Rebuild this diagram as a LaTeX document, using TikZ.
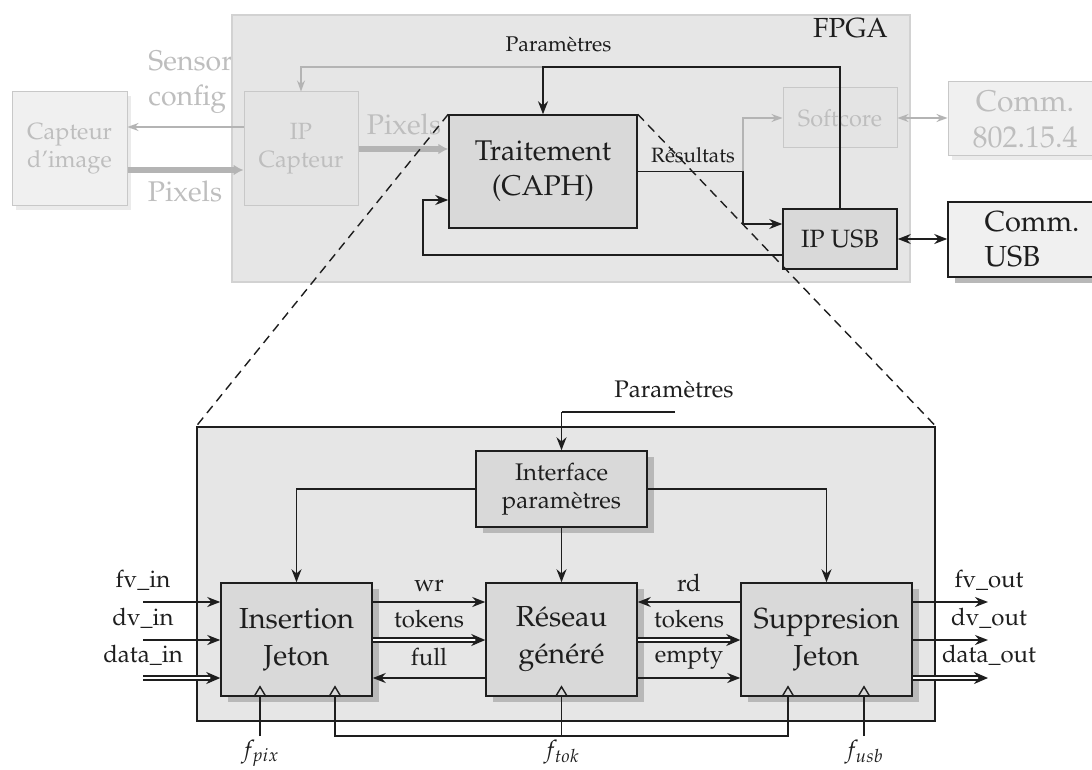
\documentclass[tikz,border=0pt]{standalone}
\usepackage[T1]{fontenc}
\usepackage{mathpazo}
\usetikzlibrary{arrows.meta,calc,positioning,shadows}
\definecolor{Ink}{HTML}{1E1E1E}
\definecolor{Board}{HTML}{E6E6E6}
\definecolor{BoardEdge}{HTML}{D2D2D2}
\definecolor{Block}{HTML}{D9D9D9}
\definecolor{Pale}{HTML}{F0F0F0}
\definecolor{PaleIn}{HTML}{E4E4E4}
\definecolor{PaleEdge}{HTML}{C8C8C8}
\definecolor{PaleInk}{HTML}{BEBEBE}
\definecolor{PaleLine}{HTML}{B4B4B4}
\definecolor{Shade}{HTML}{B8B8B8}
\tikzset{
  board/.style={draw=Ink, line width=1.5pt, fill=Board},
  fpgaboard/.style={draw=BoardEdge, line width=1.2pt, fill=Board},
  block/.style={
    draw=Ink, line width=1.5pt, fill=Block, align=center, text=Ink,
    font=\fontsize{29}{37}\selectfont
  },
  faded/.style={
    draw=PaleEdge, line width=1pt, fill=Pale, align=center, text=PaleInk,
    font=\fontsize{23.5}{28}\selectfont
  },
  shadowed/.style={drop shadow={shadow xshift=7pt, shadow yshift=-6pt, fill=Shade, opacity=1}},
  paleshadow/.style={drop shadow={shadow xshift=4pt, shadow yshift=-4pt, fill=black!8, opacity=1}},
  lbl/.style={inner sep=0pt, text=Ink, font=\fontsize{24}{28}\selectfont},
  palelbl/.style={inner sep=0pt, text=PaleInk, font=\fontsize{28.5}{35}\selectfont},
  wire/.style={line width=1.6pt, draw=Ink},
  flow/.style={-{Stealth[length=13pt,width=10pt]}, line width=1.6pt, draw=Ink},
  link/.style={flow, {Stealth[length=13pt,width=10pt]}-{Stealth[length=13pt,width=10pt]}},
  bus/.style={-{Stealth[length=14pt,width=12pt]}, draw=Ink, double=white, line width=2pt, double distance=1.2pt},
  greyflow/.style={-{Stealth[length=11pt,width=8pt]}, line width=1.2pt, draw=PaleLine},
  greylink/.style={greyflow, {Stealth[length=11pt,width=8pt]}-{Stealth[length=11pt,width=8pt]}},
  greybus/.style={-{Latex[length=10pt,width=11pt]}, line width=6pt, draw=PaleLine},
  zoomline/.style={dash pattern=on 9pt off 6pt, line width=1.4pt, draw=Ink},
  clock/.style={line width=1.4pt, draw=Ink}
}

\begin{document}
\begin{tikzpicture}[x=1pt,y=-1pt]
\path[use as bounding box, fill=white] (0,0) rectangle (1092,770);

% system view
\node[palelbl, align=left] (sensorlbl) at (190.5,82) {Sensor\\config};
\node[fpgaboard, minimum width=678pt, minimum height=267pt] (fpga) at (571,148.5) {};
\node[lbl, font=\fontsize{27.6}{32}\selectfont, anchor=base] (fpgalbl) at (850.5,38) {FPGA};

\node[faded, paleshadow, minimum width=115pt, minimum height=114pt] (capteur) at (69.5,149) {Capteur\\d'image};
\node[faded, fill=PaleIn, minimum width=114pt, minimum height=114pt] (ipcapt) at (301,149) {IP\\Capteur};
\node[block, font=\fontsize{28.5}{35}\selectfont, minimum width=188pt, minimum height=113pt] (caph) at (543,171.5) {Traitement\\(CAPH)};
\node[faded, fill=PaleIn, minimum width=114pt, minimum height=60pt] (softcore) at (840,118) {Softcore};
\node[block, font=\fontsize{25}{30}\selectfont, minimum width=114pt, minimum height=60pt] (ipusb) at (840,239) {IP USB};
\node[faded, paleshadow, font=\fontsize{30}{36}\selectfont, minimum width=154pt, minimum height=74pt] (comm802) at (1025,119) {Comm.\\802.15.4};
\node[block, fill=Pale, shadowed, align=left, font=\fontsize{29}{35}\selectfont, minimum width=168pt, minimum height=75pt] (commusb) at (1032,239.5) {Comm.\\USB};

% sensor side
\draw[greyflow] ([yshift=22pt]ipcapt.west) -- ([yshift=22pt]ipcapt.west -| capteur.east);
\draw[greybus] ([yshift=-21pt]capteur.east) -- ([yshift=-21pt]capteur.east -| ipcapt.west);
\node[palelbl, anchor=base] (pixlbl) at (185,202) {Pixels};
\draw[greybus] (ipcapt.east) -- (ipcapt.east -| caph.west);
\node[palelbl, anchor=base] (pixlbl2) at (404,135) {Pixels};

% parameters
\coordinate (prow) at (0,67);
\draw[greyflow] (caph.north |- prow) -| (ipcapt.north);
\draw[flow] (ipusb.north) |- (caph.north |- prow) -- (caph.north);
\node[lbl, font=\fontsize{21.3}{25}\selectfont, anchor=base] (paramlbl) at (558.5,52) {Param\`etres};

% results
\coordinate (rcol) at (743,0);
\coordinate (resin) at ([yshift=15pt]ipusb.west);
\draw[flow] (caph.east) -| (rcol |- resin) -- (resin);
\draw[greyflow] (caph.east -| rcol) |- (softcore.west);
\node[lbl, font=\fontsize{20.7}{24}\selectfont, anchor=base] (reslbl) at (693,163) {R\'esultats};

% feedback
\coordinate (fbcol) at (423,0);
\coordinate (fbout) at ([yshift=-16pt]ipusb.west);
\coordinate (fbin) at ([yshift=-28.5pt]caph.west);
\draw[flow] (fbout) -| (fbcol |- fbin) -- (fbin);

\draw[greylink] (softcore.east) -- (softcore.east -| comm802.west);
\draw[link] (ipusb.east) -- (ipusb.east -| commusb.west);

% zoomed view of the processing block
\node[board, minimum width=738pt, minimum height=294pt] (zoombox) at (566,574) {};
\node[block, shadowed, font=\fontsize{24}{28}\selectfont, minimum width=171pt, minimum height=76pt] (iface) at (561.5,489) {Interface\\param\`etres};
\node[block, shadowed, minimum width=151pt, minimum height=113pt] (insert) at (296.5,639.5) {Insertion\\Jeton};
\node[block, shadowed, minimum width=151pt, minimum height=113pt] (reseau) at (561.5,639.5) {R\'eseau\\g\'en\'er\'e};
\node[block, shadowed, minimum width=171pt, minimum height=113pt] (suppr) at (826.5,639.5) {Suppresion\\Jeton};

\coordinate (parin) at (675,412);
\draw[wire] (parin) -- (parin -| iface.north);
\draw[flow] (parin -| iface.north) -- (iface.north);
\node[lbl, anchor=base] (parlbl) at (674,397) {Param\`etres};
\draw[flow] (iface.west) -| (insert.north);
\draw[flow] (iface.east) -| (suppr.north);
\draw[flow] (iface.south) -- (reseau.north);

% inputs
\coordinate (fvin) at (143,602);
\coordinate (dvin) at (143,640);
\coordinate (datain) at (143,678);
\draw[flow] (fvin) -- (fvin -| insert.west);
\draw[flow] (dvin) -- (dvin -| insert.west);
\draw[bus] (datain) -- (datain -| insert.west);
\node[lbl, anchor=base] (fvlbl) at (143,587) {fv\_in};
\node[lbl, anchor=base] (dvlbl) at (143,625) {dv\_in};
\node[lbl, anchor=base] (datalbl) at (143,662) {data\_in};

% insertion <-> network
\draw[flow] (insert.east |- fvin) -- (reseau.west |- fvin);
\draw[bus] (insert.east |- dvin) -- (reseau.west |- dvin);
\draw[flow] (reseau.west |- datain) -- (insert.east |- datain);
\node[lbl, anchor=base] (wrlbl) at (429,591) {wr};
\node[lbl, anchor=base] (tok1lbl) at (429,627) {tokens};
\node[lbl, anchor=base] (fulllbl) at (429,665) {full};

% network <-> suppression
\draw[flow] (suppr.west |- fvin) -- (reseau.east |- fvin);
\draw[bus] (reseau.east |- dvin) -- (suppr.west |- dvin);
\draw[flow] (reseau.east |- datain) -- (suppr.west |- datain);
\node[lbl, anchor=base] (rdlbl) at (689,591) {rd};
\node[lbl, anchor=base] (tok2lbl) at (689,627) {tokens};
\node[lbl, anchor=base] (emptylbl) at (689,662) {empty};

% outputs
\coordinate (outcol) at (988,0);
\draw[flow] (suppr.east |- fvin) -- (outcol |- fvin);
\draw[flow] (suppr.east |- dvin) -- (outcol |- dvin);
\draw[bus] (suppr.east |- datain) -- (outcol |- datain);
\node[lbl, anchor=base] (fvolbl) at (989,587) {fv\_out};
\node[lbl, anchor=base] (dvolbl) at (989,625) {dv\_out};
\node[lbl, anchor=base] (dataolbl) at (989,662) {data\_out};

% clocks
\coordinate (ck1) at ([xshift=-36.5pt]insert.south);
\coordinate (ck2) at ([xshift=38.5pt]insert.south);
\coordinate (ck3) at (reseau.south);
\coordinate (ck4) at ([xshift=-38.5pt]suppr.south);
\coordinate (ck5) at ([xshift=37.5pt]suppr.south);
\foreach \c in {ck1,ck2,ck3,ck4,ck5}
  \draw[clock] ([xshift=-6pt]\c) -- ([yshift=10pt]\c) -- ([xshift=6pt]\c);

\coordinate (pixin) at (260,736);
\coordinate (tokin) at (561.5,736);
\coordinate (usbin) at (864,736);
\draw[wire] (pixin) -- (ck1);
\draw[wire] (tokin) -- (ck3);
\draw[wire] (ck2) -- (ck2 |- tokin) -- (ck4 |- tokin) -- (ck4);
\draw[wire] (usbin) -- (ck5);
\node[lbl, anchor=base] (fpix) at (260,757) {$f_{pix}$};
\node[lbl, anchor=base] (ftok) at (561.5,757) {$f_{tok}$};
\node[lbl, anchor=base] (fusb) at (864,757) {$f_{usb}$};

% zoom guides
\draw[zoomline] (caph.north west) -- (zoombox.north west);
\draw[zoomline] (caph.north east) -- (zoombox.north east);
\end{tikzpicture}
\end{document}
